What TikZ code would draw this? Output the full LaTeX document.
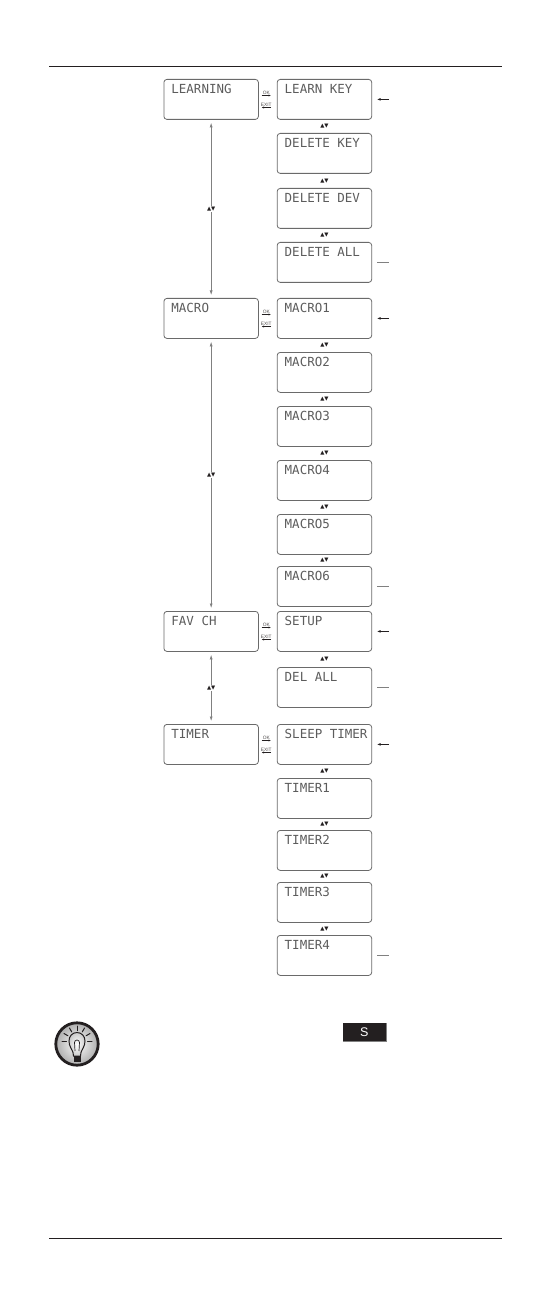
\documentclass[tikz,border=0pt]{standalone}
\usepackage{fontspec}
\setmainfont{DejaVu Sans}
\setsansfont{Liberation Sans}
\setmonofont{DejaVu Sans Mono}
\usetikzlibrary{arrows.meta,calc}
\definecolor{lcdline}{HTML}{6A6A6A}
\definecolor{lcdtext}{HTML}{5C5C5C}
\definecolor{inkdark}{HTML}{231F20}
\tikzset{
  lcdbox/.style={draw=lcdline,line width=0.8pt,rounded corners=3pt,anchor=north west,
    minimum width=94.5pt,minimum height=40pt,text width=94.5pt,inner xsep=0pt,inner ysep=0pt,
    text height=14pt,text depth=26pt,align=flush left,text=lcdtext,
    font=\ttfamily\fontsize{12.5}{13}\selectfont,execute at begin node=\hspace*{7.5pt}},
  updown/.style={inner sep=0.6pt,fill=white,text=inkdark,font=\fontsize{5.4}{6}\selectfont},
  keytag/.style={inner sep=0pt,text=inkdark!80,font=\sffamily\fontsize{4.8}{5}\selectfont},
  menuline/.style={draw=gray,line width=0.6pt,{Latex[length=4.5pt,width=3pt]}-{Latex[length=4.5pt,width=3pt]},shorten >=3pt,shorten <=3pt},
  keyline/.style={inkdark,line width=0.4pt,-{Latex[length=2.5pt,width=2pt]}},
  backline/.style={inkdark,line width=0.5pt,-{Latex[length=3.5pt,width=2.6pt]}},
  endline/.style={gray,line width=0.5pt},
  rulebar/.style={inkdark,line width=0.8pt},
}
% one OK / EXIT pair beside a menu box
\newcommand{\okexit}[2]{
  \node[keytag] (ok#1) at (266.3,#2+13.5) {OK};
  \node[keytag] (exit#1) at (266.3,#2+26) {EXIT};
  \coordinate (oka#1) at (261.5,#2+16.5);
  \coordinate (okb#1) at (271,#2+16.5);
  \coordinate (exa#1) at (271,#2+28.5);
  \coordinate (exb#1) at (261.5,#2+28.5);
  \draw[keyline] (oka#1) -- (okb#1);
  \draw[keyline] (exa#1) -- (exb#1);
}
\begin{document}
\begin{tikzpicture}[x=1pt,y=-1pt]
\useasboundingbox (0,0) rectangle (539,1305);
\coordinate (headl) at (49,66);
\coordinate (headr) at (502,66);
\coordinate (footl) at (49,1238);
\coordinate (footr) at (502,1238);
\draw[rulebar] (headl) -- (headr);
\draw[rulebar] (footl) -- (footr);
% main menu
\node[lcdbox] (learning) at (163.5,79) {LEARNING};
\node[lcdbox] (macro) at (163.5,298) {MACRO};
\node[lcdbox] (favch) at (163.5,611) {FAV CH};
\node[lcdbox] (timer) at (163.5,724) {TIMER};
\draw[menuline] (learning.south) -- node[updown] (ud1) {▲▼} (macro.north);
\draw[menuline] (macro.south) -- node[updown] (ud2) {▲▼} (favch.north);
\draw[menuline] (favch.south) -- node[updown] (ud3) {▲▼} (timer.north);
\okexit{a}{79}
\okexit{b}{298}
\okexit{c}{611}
\okexit{d}{724}
% sub menus
\foreach \boxname/\boxtop/\boxtext in {
  learnkey/79/LEARN KEY,deletekey/133/DELETE KEY,deletedev/188/DELETE DEV,deleteall/242/DELETE ALL,
  macroa/298/MACRO1,macrob/352/MACRO2,macroc/406/MACRO3,macrod/460/MACRO4,macroe/514/MACRO5,macrof/566/MACRO6,
  setup/611/SETUP,delall/667/DEL ALL,
  sleep/724/SLEEP TIMER,timera/778/TIMER1,timerb/830/TIMER2,timerc/882/TIMER3,timerd/935/TIMER4}
  \node[lcdbox] (\boxname) at (276.8,\boxtop) {\boxtext};
\foreach \upper/\lower in {learnkey/deletekey,deletekey/deletedev,deletedev/deleteall,
  macroa/macrob,macrob/macroc,macroc/macrod,macrod/macroe,macroe/macrof,
  setup/delall,sleep/timera,timera/timerb,timerb/timerc,timerc/timerd}
  \node[updown] at ($(\upper.south)!.5!(\lower.north)$) {▲▼};
% return arrows on the right
\foreach \boxname in {learnkey,macroa,setup,sleep}{
  \coordinate (\boxname from) at ($(\boxname.east)+(17,0)$);
  \coordinate (\boxname to) at ($(\boxname.east)+(5,0)$);
  \draw[backline] (\boxname from) -- (\boxname to);
}
\foreach \boxname in {deleteall,macrof,delall,timerd}{
  \coordinate (\boxname from) at ($(\boxname.east)+(5,0)$);
  \coordinate (\boxname to) at ($(\boxname.east)+(17,0)$);
  \draw[endline] (\boxname from) -- (\boxname to);
}
% tip
\node[fill=inkdark,minimum width=42.5pt,minimum height=18pt,inner sep=0pt,text=white,font=\sffamily\fontsize{12.5}{13}\selectfont] (skey) at (364.3,1032) {S};
\draw[gray,line width=0.5pt] (skey.south west) -- (skey.south east) -- (skey.north east);
\shade[outer color=gray!65,inner color=white] (77,1044) circle (21.5);
\draw[inkdark,line width=2.8pt] (77,1044) circle (21.2);
\shade[draw=inkdark,line width=1pt,outer color=gray!40,inner color=white] (73.5,1056) -- (73,1052.5)
  .. controls (72,1049) and (69,1046.5) .. (69,1041)
  .. controls (69,1036) and (72.5,1032.5) .. (77,1032.5)
  .. controls (81.5,1032.5) and (85,1036) .. (85,1041)
  .. controls (85,1046.5) and (82,1049) .. (81,1052.5) -- (80.5,1056) -- cycle;
\draw[inkdark,line width=0.7pt] (75,1051) -- (74.5,1042.5) arc (180:360:2.5) -- (79,1051);
\fill[inkdark] (73.5,1055.5) rectangle (80.5,1061.5);
\foreach \rayang in {-180,-150,-120,-90,-60,-30,0}
  \draw[inkdark,line width=1pt,line cap=round] ($(77,1041)+(\rayang:10.5)$) -- ($(77,1041)+(\rayang:15)$);
\end{tikzpicture}
\end{document}
